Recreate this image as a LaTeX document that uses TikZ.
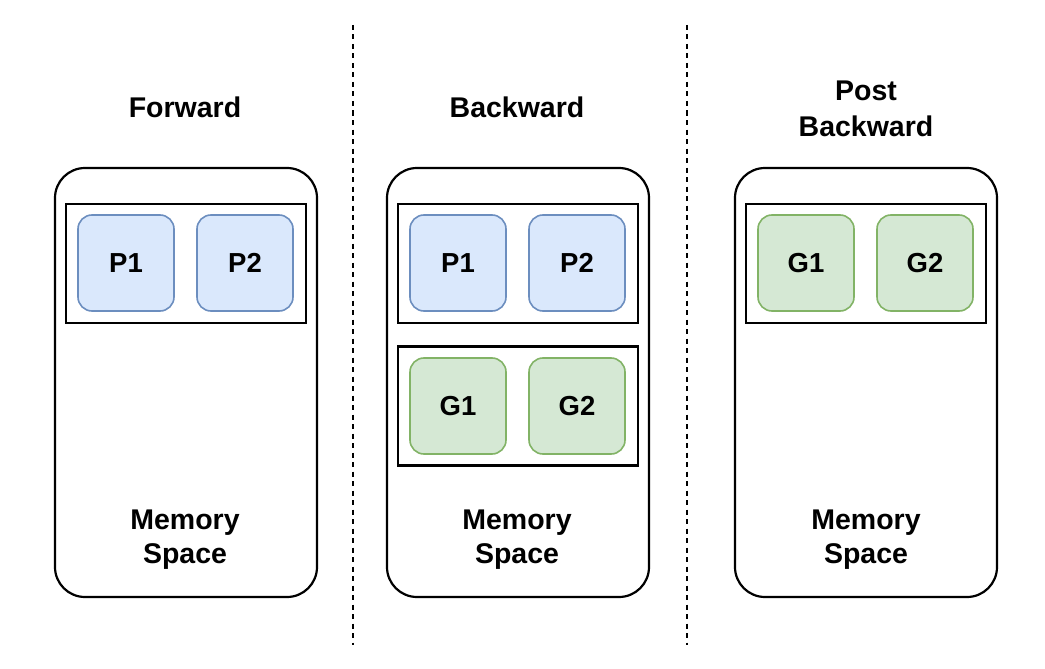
\documentclass[tikz,border=0pt]{standalone}
\usepackage{fontspec}
\setmainfont{Liberation Sans}
\begin{document}
\begin{tikzpicture}[x=1pt,y=-1pt,
  txt/.style={font=\fontsize{28.5}{34}\selectfont\bfseries, align=center, inner sep=0pt},
  panel/.style={draw=black, line width=2.2pt, rounded corners=30pt, minimum width=262pt, minimum height=429pt, inner sep=0pt},
  group/.style={draw=black, line width=2.2pt, minimum width=240pt, minimum height=119pt, inner sep=0pt},
  pbox/.style={draw={rgb,255:red,108;green,142;blue,191}, fill={rgb,255:red,218;green,232;blue,252}, line width=1.6pt, rounded corners=14pt, minimum width=96pt, minimum height=96pt, inner sep=0pt, font=\fontsize{27.5}{30}\selectfont\bfseries},
  gbox/.style={draw={rgb,255:red,130;green,179;blue,102}, fill={rgb,255:red,213;green,232;blue,212}, line width=1.6pt, rounded corners=14pt, minimum width=96pt, minimum height=96pt, inner sep=0pt, font=\fontsize{27.5}{30}\selectfont\bfseries},
  sep/.style={draw=black, line width=2.4pt, dash pattern=on 5pt off 4.5pt}
]
\useasboundingbox (0,0) rectangle (1045,669);
% dashed separators
\coordinate (s1a) at (353,25); \coordinate (s1b) at (353,645);
\coordinate (s2a) at (687,25); \coordinate (s2b) at (687,645);
\draw[sep] (s1a) -- (s1b);
\draw[sep] (s2a) -- (s2b);
% titles
\node[txt] (t1) at (185,107) {Forward};
\node[txt] (t2) at (517,107) {Backward};
\node[txt, font=\fontsize{28.5}{36}\selectfont\bfseries] (t3) at (866,109) {Post\\Backward};
% panels
\node[panel] (m1) at (186,382.5) {};
\node[panel] (m2) at (518,382.5) {};
\node[panel] (m3) at (866,382.5) {};
% groups
\node[group] (g1) at (186,263.5) {};
\node[group] (g2a) at (518,263.5) {};
\node[group] (g2b) at (518,406) {};
\node[group] (g3) at (866,263.5) {};
% boxes
\node[pbox] (p11) at (126,263) {P1};
\node[pbox] (p12) at (245,263) {P2};
\node[pbox] (p21) at (458,263) {P1};
\node[pbox] (p22) at (577,263) {P2};
\node[gbox] (g21) at (458,406) {G1};
\node[gbox] (g22) at (577,406) {G2};
\node[gbox] (g31) at (806,263) {G1};
\node[gbox] (g32) at (925,263) {G2};
% memory labels
\node[txt] (ms1) at (185,539.5) {Memory\\Space};
\node[txt] (ms2) at (517,539.5) {Memory\\Space};
\node[txt] (ms3) at (866,539.5) {Memory\\Space};
\end{tikzpicture}
\end{document}
